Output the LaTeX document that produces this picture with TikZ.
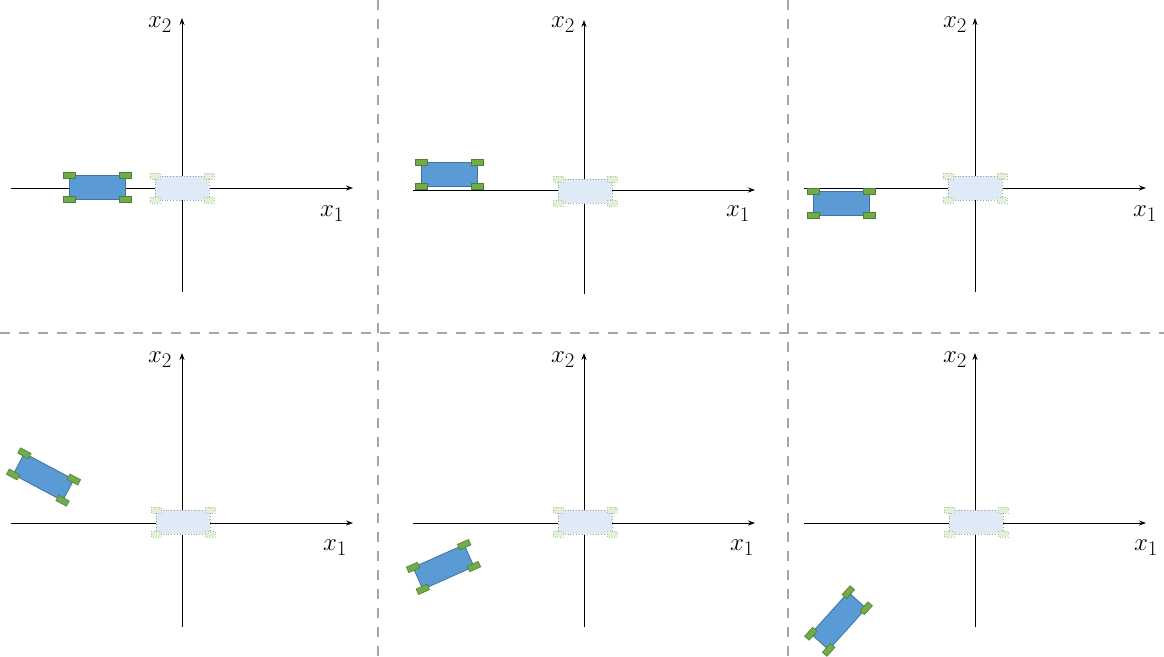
\documentclass[tikz,border=0pt]{standalone}
\usetikzlibrary{arrows.meta}
\definecolor{carblue}{HTML}{5B9BD5}
\definecolor{carblueedge}{HTML}{41719C}
\definecolor{wheelgreen}{HTML}{70AD47}
\definecolor{wheeledge}{HTML}{507E32}
\definecolor{ghostblue}{HTML}{DEEBF7}
\definecolor{ghostgreen}{HTML}{E2F0D9}
\definecolor{ghostedge}{HTML}{A0A0A0}
\definecolor{ghostwheeledge}{HTML}{A9C48E}
\definecolor{divgray}{HTML}{A6A6A6}
\tikzset{
  axis/.style={line width=0.9pt,-{Stealth[length=7pt,width=5pt]}},
  divider/.style={divgray,line width=2pt,dash pattern=on 10pt off 9pt},
  lbl/.style={font=\fontsize{31}{33}\selectfont,inner sep=0pt},
  bodyd/.style={fill=carblue,draw=carblueedge,line width=0.8pt},
  wheeld/.style={fill=wheelgreen,draw=wheeledge,line width=0.6pt},
  bodyg/.style={fill=ghostblue,draw=ghostedge,line width=0.8pt,dotted},
  wheelg/.style={fill=ghostgreen,draw=ghostwheeledge,line width=0.6pt,dotted},
  darkcar/.pic={
    \draw[bodyd] (-28,-12) rectangle (28,12);
    \foreach \px in {-28,28}{\foreach \py in {-12,12}{
      \draw[wheeld] (\px-6,\py-3) rectangle (\px+6,\py+3);}}
  },
  ghostcar/.pic={
    \draw[bodyg] (-27,-12) rectangle (27,12);
    \foreach \px in {-27,27}{\foreach \py in {-12,12}{
      \draw[wheelg] (\px-5,\py-3) rectangle (\px+5,\py+3);}}
  }
}
\begin{document}
\begin{tikzpicture}[x=1pt,y=-1pt]
\useasboundingbox (0,0) rectangle (1164,656);
\fill[white] (0,0) rectangle (1164,656);
% dividers
\coordinate (dv1t) at (378,0); \coordinate (dv1b) at (378,656);
\coordinate (dv2t) at (788,0); \coordinate (dv2b) at (788,656);
\coordinate (dhl) at (0,333); \coordinate (dhr) at (1164,333);
\draw[divider] (dv1t) -- (dv1b);
\draw[divider] (dv2t) -- (dv2b);
\draw[divider] (dhl) -- (dhr);
% axes
\foreach \n/\ox/\oy in {a/182/188,b/584/190,c/975/188,d/182/523,e/584/523,f/975/523}{
  \coordinate (\n-l) at (\ox-171,\oy);
  \coordinate (\n-r) at (\ox+171,\oy);
  \coordinate (\n-b) at (\ox,\oy+104);
  \coordinate (\n-t) at (\ox,\oy-170);
  \draw[axis] (\n-l) -- (\n-r);
  \draw[axis] (\n-b) -- (\n-t);
}
% labels
\node[lbl] (a-x2) at (160,25) {$x_2$};
\node[lbl] (b-x2) at (563,25) {$x_2$};
\node[lbl] (c-x2) at (955,25) {$x_2$};
\node[lbl] (d-x2) at (160,360) {$x_2$};
\node[lbl] (e-x2) at (563,360) {$x_2$};
\node[lbl] (f-x2) at (955,360) {$x_2$};
\node[lbl] (a-x1) at (332,214) {$x_1$};
\node[lbl] (b-x1) at (738,214) {$x_1$};
\node[lbl] (c-x1) at (1145,214) {$x_1$};
\node[lbl] (d-x1) at (335,548) {$x_1$};
\node[lbl] (e-x1) at (742,548) {$x_1$};
\node[lbl] (f-x1) at (1146,548) {$x_1$};
% ghost cars
\pic at (182,188) {ghostcar};
\pic at (585,191) {ghostcar};
\pic at (975,188) {ghostcar};
\pic at (183,522) {ghostcar};
\pic at (585,522) {ghostcar};
\pic at (976,522) {ghostcar};
% dark cars
\pic at (97.5,187.5) {darkcar};
\pic at (449,174.5) {darkcar};
\pic at (841,203.5) {darkcar};
\pic[rotate=-28] at (43.5,477) {darkcar};
\pic[rotate=24] at (443.5,567) {darkcar};
\pic[rotate=48] at (838.5,621) {darkcar};
\end{tikzpicture}
\end{document}
